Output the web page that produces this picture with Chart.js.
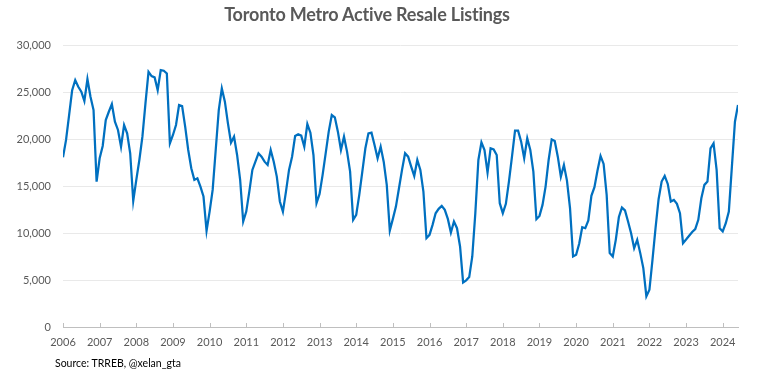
<!DOCTYPE html>
<html lang="en">
<head>
<meta charset="UTF-8" />
<title>Toronto Metro Active Resale Listings</title>
<style>
  * {margin:0; padding:0; box-sizing:border-box;}
  body {background:#fff; width:764px; height:380px; overflow:hidden; font-family:'Lato', sans-serif;}
  .wrap {position:relative; width:764px; height:380px;}
  h1 {
    position:absolute; left:0; width:734px; top:3px;
    text-align:center; font-size:18px; font-weight:700; color:#595959;
    letter-spacing:-0.2px;
  }
  .source {position:absolute; left:55px; top:357px; font-size:10.5px; color:#000;}
  canvas {position:absolute; left:0; top:0;}
</style>
</head>
<body>
<div class="wrap">
  <canvas id="chart" width="764" height="380"></canvas>
  <h1>Toronto Metro Active Resale Listings</h1>
  <div class="source">Source: TRREB, @xelan_gta</div>
</div>

<script src="https://cdn.jsdelivr.net/npm/chart.js"></script>
<script>
  // monthly active listings, Jan..Dec of each year
  const y2006 = [18050, 19900, 22550, 25200, 26270, 25560, 25030, 24040, 26370, 24500, 23080, 15470];
  const y2007 = [17950, 19260, 22020, 22900, 23720, 21840, 20960, 19190, 21490, 20600, 18480, 13420];
  const y2008 = [15650, 17770, 20250, 23790, 27150, 26690, 26550, 25200, 27330, 27260, 26970, 19540];
  const y2009 = [20430, 21490, 23610, 23500, 21310, 18830, 16890, 15650, 15820, 14940, 13880, 10230];
  const y2010 = [12280, 14580, 18830, 23080, 25380, 23970, 21670, 19610, 20250, 18300, 15650, 11220];
  const y2011 = [12280, 14410, 16710, 17590, 18480, 18120, 17590, 17240, 18830, 17590, 16000, 13350];
  const y2012 = [12280, 14410, 16710, 18120, 20320, 20500, 20360, 19190, 21590, 20670, 18300, 13170];
  const y2013 = [14160, 16180, 18480, 20780, 22550, 22300, 20780, 18830, 20250, 18660, 16530, 11400];
  const y2014 = [11930, 14050, 16530, 19010, 20600, 20670, 19360, 17950, 19190, 17590, 15120, 10270];
  const y2015 = [11500, 12810, 14760, 16710, 18480, 18120, 17060, 16070, 17770, 16710, 14410, 9450];
  const y2016 = [9800, 10870, 12100, 12570, 12890, 12460, 11500, 10050, 11220, 10510, 8570, 4740];
  const y2017 = [4960, 5310, 7500, 12110, 17770, 19650, 18830, 16430, 19010, 18900, 18300, 13170];
  const y2018 = [12110, 13100, 15470, 18120, 20890, 20890, 19720, 17950, 20070, 18830, 16530, 11470];
  const y2019 = [11820, 12990, 14940, 17770, 19960, 19790, 18120, 16000, 17240, 15580, 12640, 7500];
  const y2020 = [7680, 8850, 10620, 10510, 11330, 13950, 14870, 16640, 18200, 17350, 14050, 7860];
  const y2021 = [7500, 9300, 11700, 12700, 12400, 11220, 9980, 8390, 9270, 7860, 6270, 3260];
  const y2022 = [3960, 7150, 10510, 13590, 15470, 16070, 15220, 13350, 13520, 13100, 12110, 8920];
  const y2023 = [9300, 9700, 10100, 10410, 11400, 13700, 15120, 15470, 19010, 19540, 16710, 10510];
  const y2024 = [10160, 11040, 12280, 17060, 21840, 23610];

  const firstYear = 2006;
  const yTicks = [0, 5000, 10000, 15000, 20000, 25000, 30000];

  const listings = [].concat(y2006, y2007, y2008, y2009, y2010, y2011, y2012, y2013, y2014,
    y2015, y2016, y2017, y2018, y2019, y2020, y2021, y2022, y2023, y2024);
  const points = listings.map((v, i) => ({x: i, y: v}));

  const font = {family: 'Lato', size: 11};

  // small tick marks pointing up from the x axis, one per year
  const innerTicks = {
    id: 'innerTicks',
    afterDraw(chart) {
      const xs = chart.scales.x, ctx = chart.ctx, bottom = chart.chartArea.bottom;
      ctx.save();
      ctx.strokeStyle = '#bfbfbf';
      ctx.lineWidth = 1;
      xs.ticks.forEach(t => {
        const px = Math.round(xs.getPixelForValue(t.value)) + 0.5;
        ctx.beginPath();
        ctx.moveTo(px, bottom - 4);
        ctx.lineTo(px, bottom);
        ctx.stroke();
      });
      ctx.restore();
    }
  };

  new Chart(document.getElementById('chart'), {
    type: 'line',
    data: {
      datasets: [{
        data: points,
        borderColor: '#0070C0',
        borderWidth: 2.25,
        pointRadius: 0,
        tension: 0,
        fill: false
      }]
    },
    options: {
      responsive: false,
      animation: false,
      layout: {padding: {top: 45, right: 26, left: 0, bottom: 0}},
      plugins: {legend: {display: false}, tooltip: {enabled: false}},
      scales: {
        x: {
          type: 'linear',
          min: 0,
          max: listings.length - 1,
          grid: {display: false, drawTicks: false},
          border: {display: true, color: '#bfbfbf', width: 1},
          ticks: {
            stepSize: 12,
            includeBounds: false,
            autoSkip: false,
            maxRotation: 0,
            padding: 9,
            color: '#595959',
            font: font,
            callback: v => String(firstYear + v / 12)
          },
          afterFit: s => { s.height = 53; }
        },
        y: {
          min: 0,
          max: 30000,
          afterBuildTicks: s => { s.ticks = yTicks.map(v => ({value: v})); },
          grid: {color: '#e9e9e9', lineWidth: 1, drawTicks: false},
          border: {display: false},
          ticks: {
            padding: 12,
            color: '#595959',
            font: font,
            callback: v => v.toLocaleString('en-US')
          },
          afterFit: s => { s.width = 63; }
        }
      }
    },
    plugins: [innerTicks]
  });
</script>
</body>
</html>
